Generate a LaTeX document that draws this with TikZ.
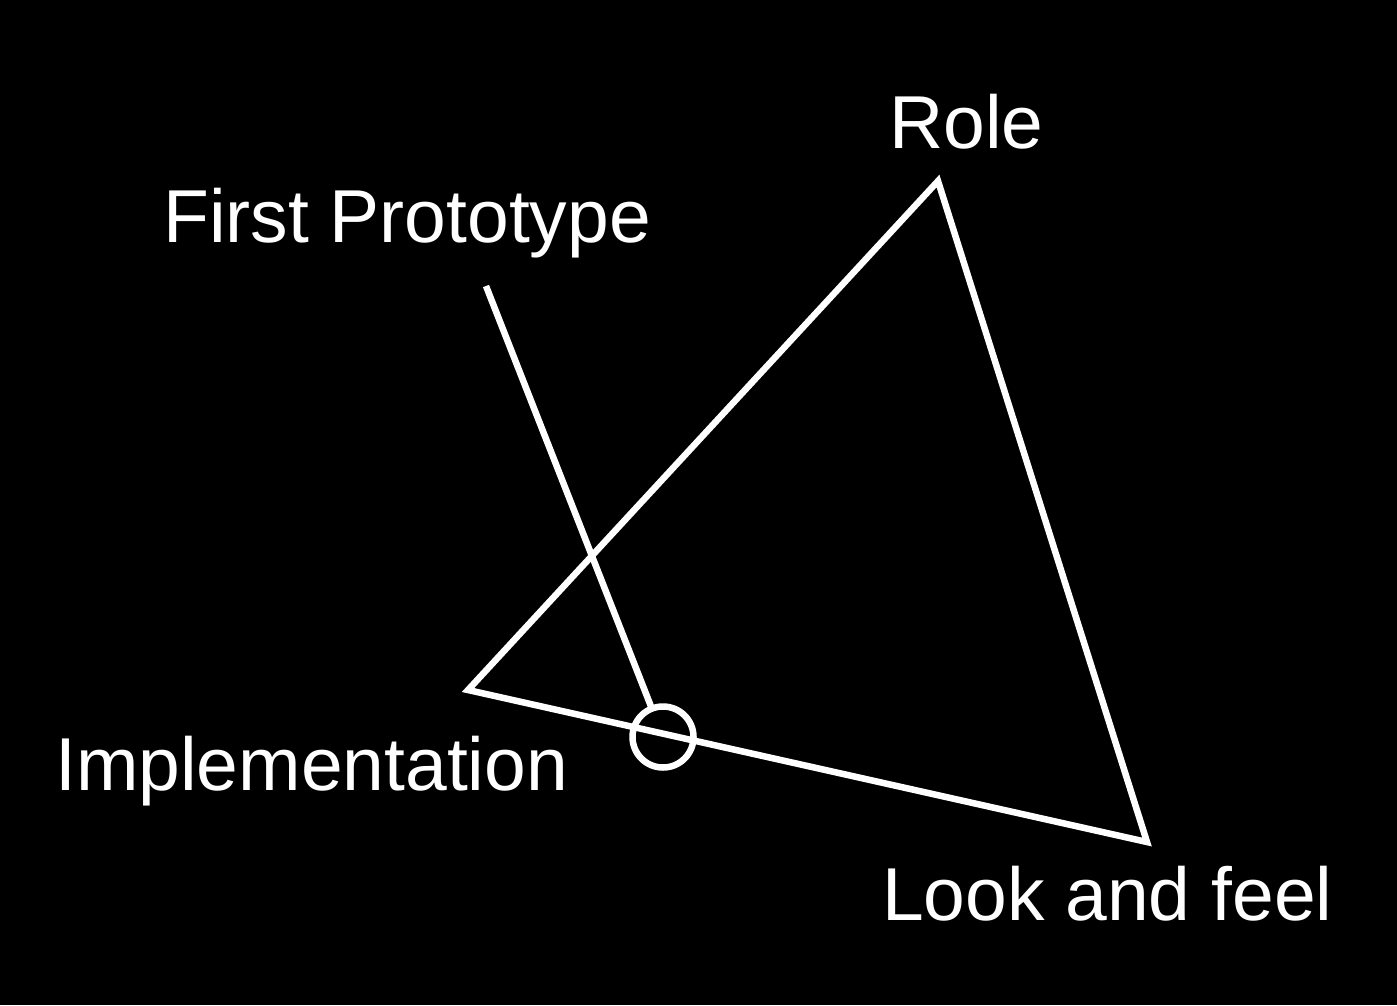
\documentclass[tikz,border=0pt]{standalone}
\usepackage{fontspec}
\setmainfont{Liberation Sans}
\begin{document}
\begin{tikzpicture}[x=1pt,y=-1pt,
  lbl/.style={text=white,font=\fontsize{75}{80}\selectfont,inner sep=0pt,anchor=base west},
  wline/.style={draw=white,line width=6.5pt,line join=miter},
  ring/.style={circle,draw=white,line width=6.5pt,minimum size=61pt,inner sep=0pt,outer sep=0pt}]
\fill[black] (0,0) rectangle (1397,1005);
\useasboundingbox (0,0) rectangle (1397,1005);
% vertices
\coordinate (vrole) at (938,181);
\coordinate (vimpl) at (468,690);
\coordinate (vlook) at (1147,842);
\coordinate (fptop) at (486,286);
\node[ring] (circ) at (663,737) {};
% labels
\node[lbl] (role) at (889,148) {Role};
\node[lbl] (fp) at (163,242) {First Prototype};
\node[lbl] (impl) at (55,790) {Implementation};
\node[lbl] (look) at (882,920) {Look and feel};
% triangle
\draw[wline] (vrole) -- (vimpl) -- (vlook) -- cycle;
% first prototype pointer
\draw[wline] (fptop) -- (circ);
\end{tikzpicture}
\end{document}
